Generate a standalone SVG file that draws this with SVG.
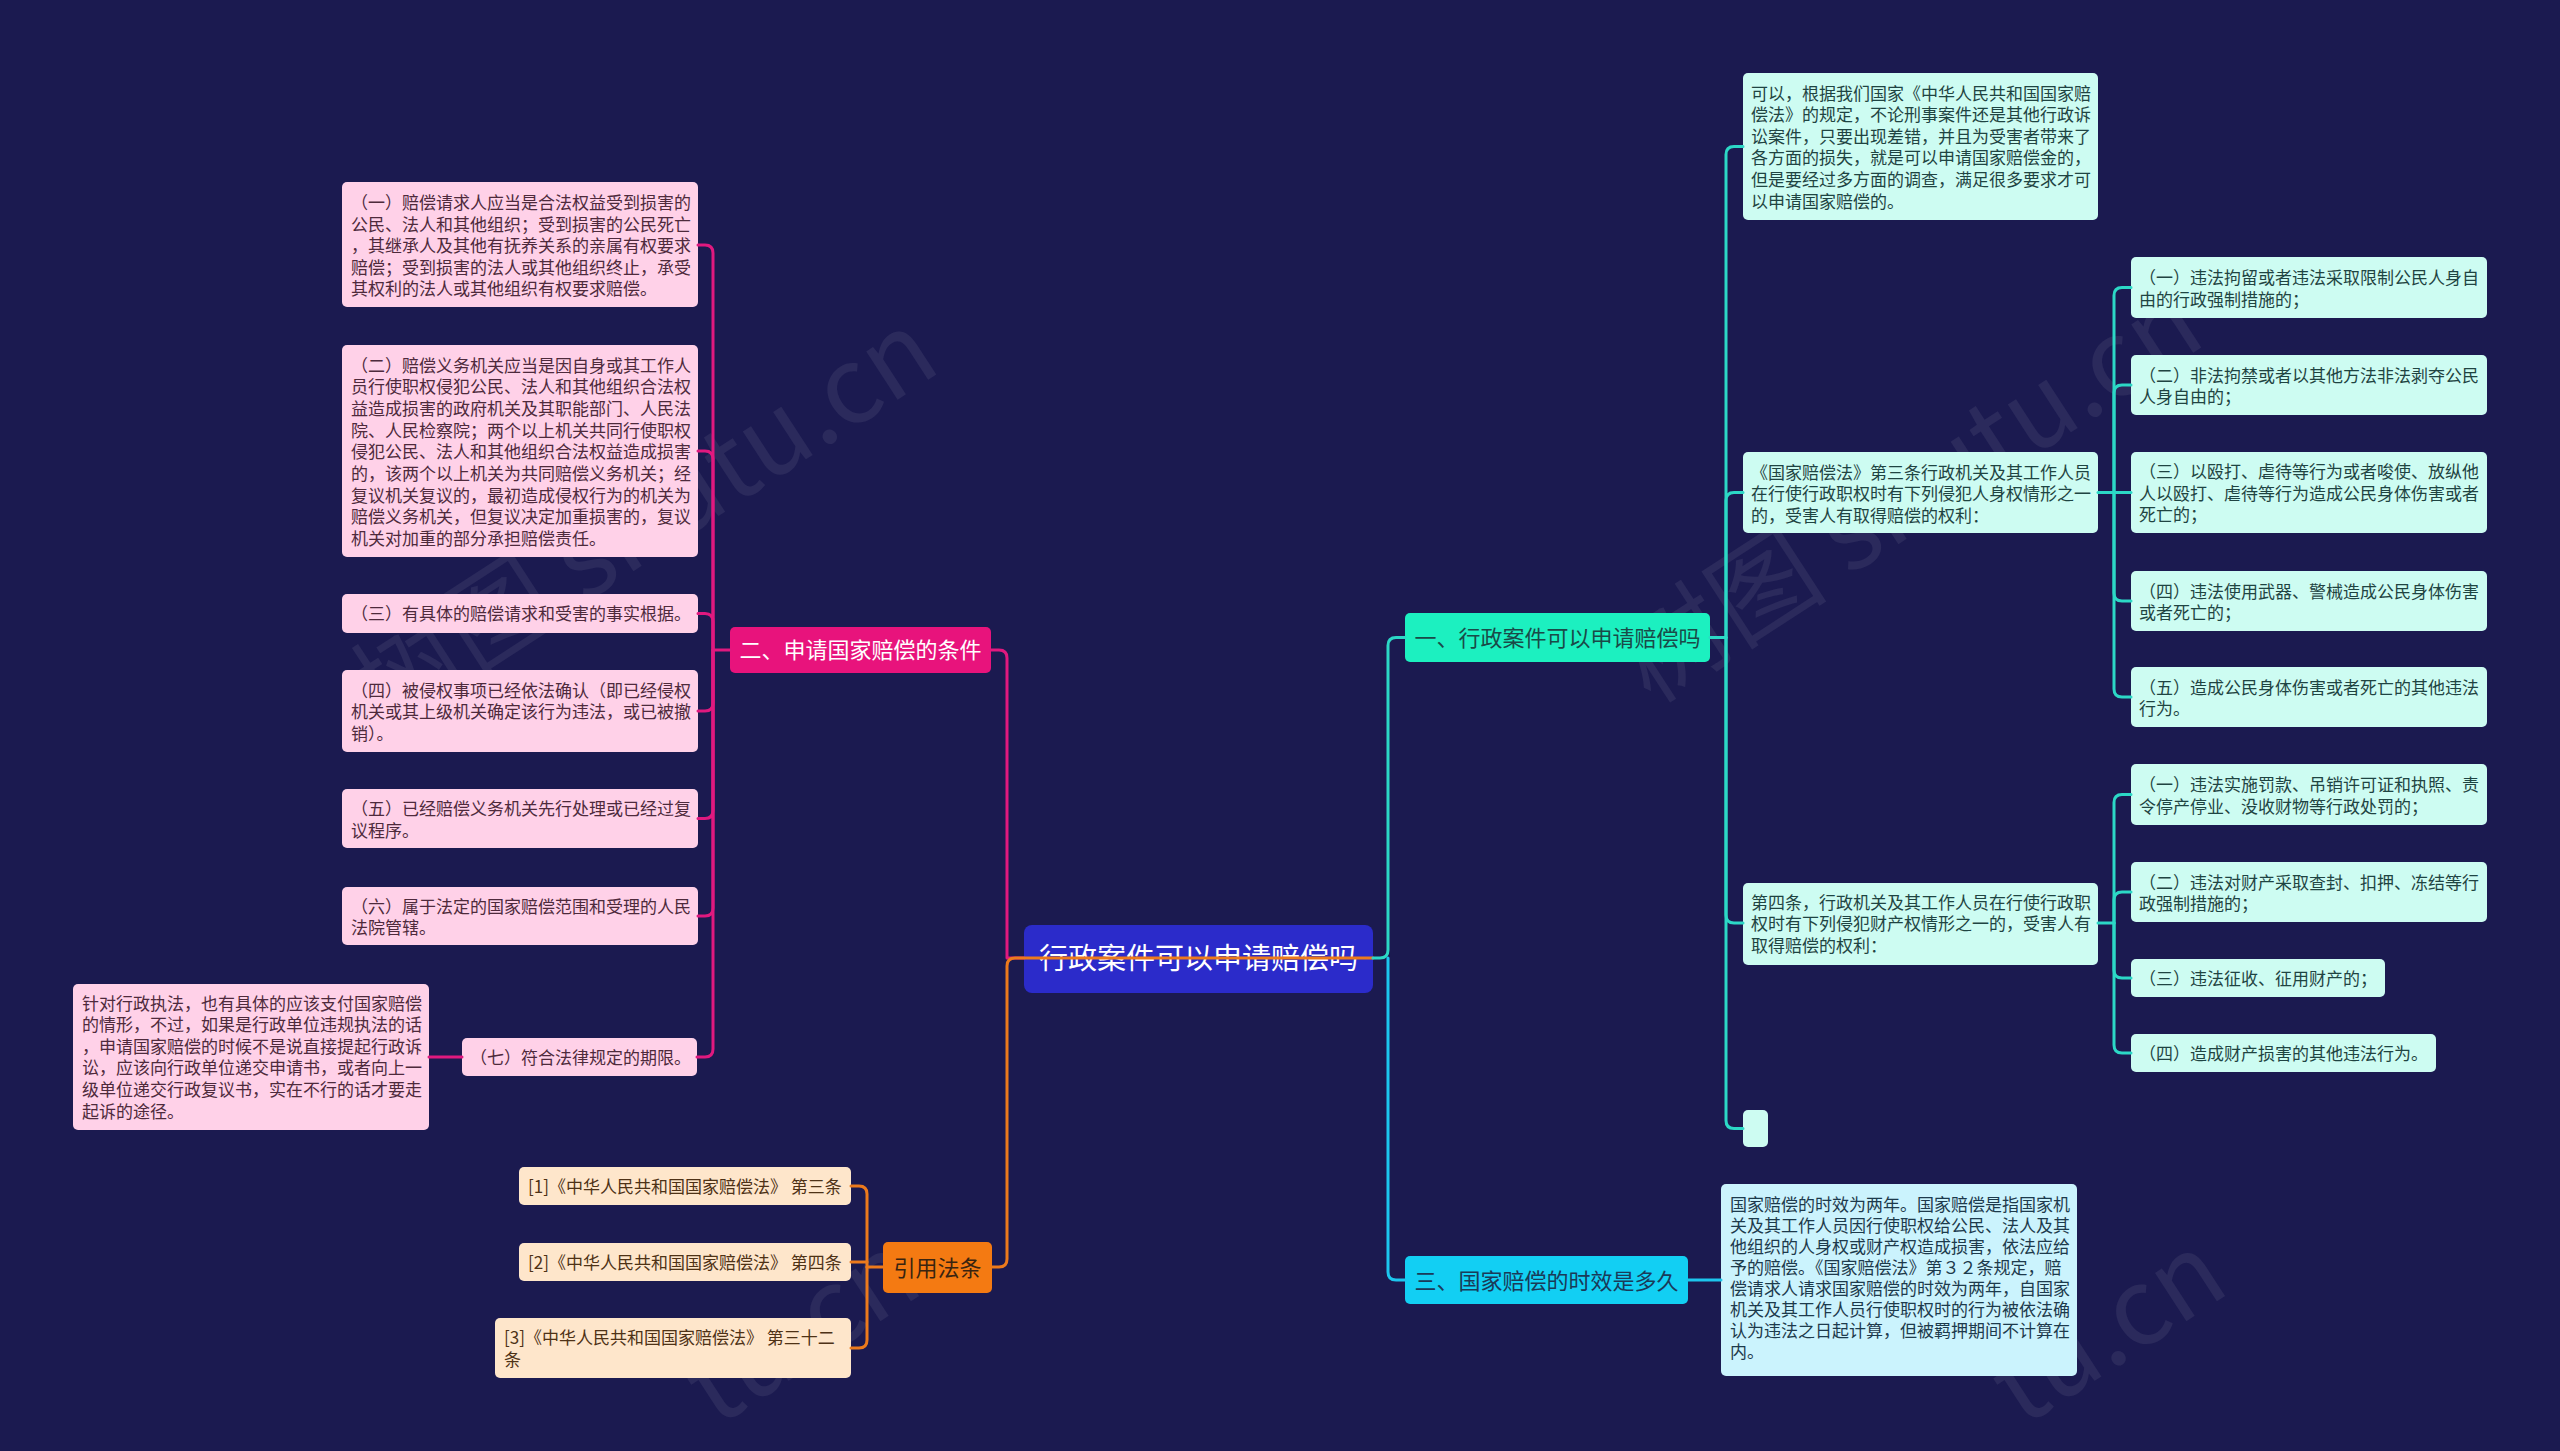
<svg xmlns="http://www.w3.org/2000/svg" width="2560" height="1451" viewBox="0 0 2560 1451">
<style>
text{font-family:"Noto Sans CJK SC","Noto Sans",sans-serif}
.leaf{font-size:17px}
.pk rect{fill:#ffd1e8}.pk text{fill:#4e2a3c}
.tl rect{fill:#cdfcf2}.tl text{fill:#1f4442}
.sk rect{fill:#cbf3fd}.sk text{fill:#1d3a4c}
.pc rect{fill:#fee6cb}.pc text{fill:#4e3216}
.br{font-size:22px}
.wm{font-size:106px;fill:#ffffff;fill-opacity:0.07;font-family:"Noto Sans CJK SC","Noto Sans",sans-serif}
.c{fill:none;stroke-width:3;stroke-linecap:round;stroke-linejoin:round}
.cp{stroke:#e0197f}.co{stroke:#ec7a1c}.ct{stroke:#2cd8c6}.cs{stroke:#1cc6ee}
</style>
<rect width="2560" height="1451" fill="#1b1a50"/>
<g id="watermarks">
<text class="wm" transform="translate(386,732) rotate(-33)">树图 shutu.cn</text>
<text class="wm" transform="translate(1651,705) rotate(-33)">树图 shutu.cn</text>
<text class="wm" transform="translate(716,1428) rotate(-33)">tu.cn</text>
<text class="wm" transform="translate(2022,1428) rotate(-33)">tu.cn</text>
</g>
<g id="nodes">
<g id="root"><rect x="1024" y="925" width="349" height="68" rx="8" fill="#2b2bca"/><text x="1198.5" y="969" font-size="29" fill="#ffffff" text-anchor="middle">行政案件可以申请赔偿吗</text></g>

<g id="b2"><rect x="730" y="627" width="261" height="46" rx="5" fill="#e8137c"/><text class="br" x="860.5" y="658" fill="#ffffff" text-anchor="middle">二、申请国家赔偿的条件</text></g>
<g id="bref"><rect x="883" y="1242" width="109" height="51" rx="5" fill="#f47a12"/><text class="br" x="937.5" y="1276" fill="#3a2410" text-anchor="middle">引用法条</text></g>
<g id="b1"><rect x="1405" y="613" width="305" height="49" rx="5" fill="#1cf0c0"/><text class="br" x="1557.5" y="646" fill="#1a4a48" text-anchor="middle">一、行政案件可以申请赔偿吗</text></g>
<g id="b3"><rect x="1405" y="1256" width="283" height="48" rx="5" fill="#12cff3"/><text class="br" x="1546.5" y="1288.5" fill="#1a3a58" text-anchor="middle">三、国家赔偿的时效是多久</text></g>

<g id="p1" class="pk leaf"><rect x="342" y="182" width="356" height="125" rx="5"/><text x="351"><tspan x="351" y="209">（一）赔偿请求人应当是合法权益受到损害的</tspan><tspan x="351" y="230.5">公民、法人和其他组织；受到损害的公民死亡</tspan><tspan x="351" y="252">，其继承人及其他有抚养关系的亲属有权要求</tspan><tspan x="351" y="273.5">赔偿；受到损害的法人或其他组织终止，承受</tspan><tspan x="351" y="295">其权利的法人或其他组织有权要求赔偿。</tspan></text></g>
<g id="p2" class="pk leaf"><rect x="342" y="345" width="356" height="212" rx="5"/><text><tspan x="351" y="371.5">（二）赔偿义务机关应当是因自身或其工作人</tspan><tspan x="351" y="393.2">员行使职权侵犯公民、法人和其他组织合法权</tspan><tspan x="351" y="414.8">益造成损害的政府机关及其职能部门、人民法</tspan><tspan x="351" y="436.5">院、人民检察院；两个以上机关共同行使职权</tspan><tspan x="351" y="458.2">侵犯公民、法人和其他组织合法权益造成损害</tspan><tspan x="351" y="479.8">的，该两个以上机关为共同赔偿义务机关；经</tspan><tspan x="351" y="501.5">复议机关复议的，最初造成侵权行为的机关为</tspan><tspan x="351" y="523.2">赔偿义务机关，但复议决定加重损害的，复议</tspan><tspan x="351" y="544.8">机关对加重的部分承担赔偿责任。</tspan></text></g>
<g id="p3" class="pk leaf"><rect x="342" y="594" width="356" height="39" rx="5"/><text x="351" y="620">（三）有具体的赔偿请求和受害的事实根据。</text></g>
<g id="p4" class="pk leaf"><rect x="342" y="670" width="356" height="82" rx="5"/><text><tspan x="351" y="696.5">（四）被侵权事项已经依法确认（即已经侵权</tspan><tspan x="351" y="718.2">机关或其上级机关确定该行为违法，或已被撤</tspan><tspan x="351" y="739.8">销）。</tspan></text></g>
<g id="p5" class="pk leaf"><rect x="342" y="789" width="356" height="59" rx="5"/><text><tspan x="351" y="815">（五）已经赔偿义务机关先行处理或已经过复</tspan><tspan x="351" y="836.6">议程序。</tspan></text></g>
<g id="p6" class="pk leaf"><rect x="342" y="887" width="356" height="58" rx="5"/><text><tspan x="351" y="912.5">（六）属于法定的国家赔偿范围和受理的人民</tspan><tspan x="351" y="934.1">法院管辖。</tspan></text></g>
<g id="p7" class="pk leaf"><rect x="462" y="1038" width="235" height="38" rx="5"/><text x="470" y="1063.5">（七）符合法律规定的期限。</text></g>
<g id="p7n" class="pk leaf"><rect x="73" y="984" width="356" height="146" rx="5"/><text><tspan x="82" y="1009.5">针对行政执法，也有具体的应该支付国家赔偿</tspan><tspan x="82" y="1031.1">的情形，不过，如果是行政单位违规执法的话</tspan><tspan x="82" y="1052.7">，申请国家赔偿的时候不是说直接提起行政诉</tspan><tspan x="82" y="1074.3">讼，应该向行政单位递交申请书，或者向上一</tspan><tspan x="82" y="1095.9">级单位递交行政复议书，实在不行的话才要走</tspan><tspan x="82" y="1117.5">起诉的途径。</tspan></text></g>

<g id="r1" class="pc leaf"><rect x="519" y="1167" width="332" height="38" rx="5"/><text x="528" y="1192.5">[1]《中华人民共和国国家赔偿法》 第三条</text></g>
<g id="r2" class="pc leaf"><rect x="519" y="1243" width="332" height="38" rx="5"/><text x="528" y="1268.5">[2]《中华人民共和国国家赔偿法》 第四条</text></g>
<g id="r3" class="pc leaf"><rect x="495" y="1318" width="356" height="60" rx="5"/><text><tspan x="504" y="1344">[3]《中华人民共和国国家赔偿法》 第三十二</tspan><tspan x="504" y="1366">条</tspan></text></g>

<g id="t1" class="tl leaf"><rect x="1743" y="73" width="355" height="147" rx="5"/><text><tspan x="1751" y="99.5">可以，根据我们国家《中华人民共和国国家赔</tspan><tspan x="1751" y="121.1">偿法》的规定，不论刑事案件还是其他行政诉</tspan><tspan x="1751" y="142.7">讼案件，只要出现差错，并且为受害者带来了</tspan><tspan x="1751" y="164.3">各方面的损失，就是可以申请国家赔偿金的，</tspan><tspan x="1751" y="185.9">但是要经过多方面的调查，满足很多要求才可</tspan><tspan x="1751" y="207.5">以申请国家赔偿的。</tspan></text></g>
<g id="t2" class="tl leaf"><rect x="1743" y="452" width="355" height="81" rx="5"/><text><tspan x="1751" y="478.5">《国家赔偿法》第三条行政机关及其工作人员</tspan><tspan x="1751" y="500">在行使行政职权时有下列侵犯人身权情形之一</tspan><tspan x="1751" y="521.5">的，受害人有取得赔偿的权利：</tspan></text></g>
<g id="t3" class="tl leaf"><rect x="1743" y="883" width="355" height="82" rx="5"/><text><tspan x="1751" y="908.5">第四条，行政机关及其工作人员在行使行政职</tspan><tspan x="1751" y="930">权时有下列侵犯财产权情形之一的，受害人有</tspan><tspan x="1751" y="951.5">取得赔偿的权利：</tspan></text></g>
<g id="t4" class="tl leaf"><rect x="1743" y="1110" width="25" height="37" rx="5"/></g>

<g id="t2a" class="tl leaf"><rect x="2131" y="257" width="356" height="61" rx="5"/><text><tspan x="2139" y="284">（一）违法拘留或者违法采取限制公民人身自</tspan><tspan x="2139" y="305.6">由的行政强制措施的；</tspan></text></g>
<g id="t2b" class="tl leaf"><rect x="2131" y="355" width="356" height="60" rx="5"/><text><tspan x="2139" y="381.5">（二）非法拘禁或者以其他方法非法剥夺公民</tspan><tspan x="2139" y="403.1">人身自由的；</tspan></text></g>
<g id="t2c" class="tl leaf"><rect x="2131" y="452" width="356" height="81" rx="5"/><text><tspan x="2139" y="478">（三）以殴打、虐待等行为或者唆使、放纵他</tspan><tspan x="2139" y="499.6">人以殴打、虐待等行为造成公民身体伤害或者</tspan><tspan x="2139" y="521.2">死亡的；</tspan></text></g>
<g id="t2d" class="tl leaf"><rect x="2131" y="571" width="356" height="60" rx="5"/><text><tspan x="2139" y="597.5">（四）违法使用武器、警械造成公民身体伤害</tspan><tspan x="2139" y="619.1">或者死亡的；</tspan></text></g>
<g id="t2e" class="tl leaf"><rect x="2131" y="667" width="356" height="60" rx="5"/><text><tspan x="2139" y="693.5">（五）造成公民身体伤害或者死亡的其他违法</tspan><tspan x="2139" y="715.1">行为。</tspan></text></g>

<g id="t3a" class="tl leaf"><rect x="2131" y="764" width="356" height="61" rx="5"/><text><tspan x="2139" y="791">（一）违法实施罚款、吊销许可证和执照、责</tspan><tspan x="2139" y="812.6">令停产停业、没收财物等行政处罚的；</tspan></text></g>
<g id="t3b" class="tl leaf"><rect x="2131" y="862" width="356" height="60" rx="5"/><text><tspan x="2139" y="888.5">（二）违法对财产采取查封、扣押、冻结等行</tspan><tspan x="2139" y="910.1">政强制措施的；</tspan></text></g>
<g id="t3c" class="tl leaf"><rect x="2131" y="959" width="254" height="38" rx="5"/><text x="2139" y="984.5">（三）违法征收、征用财产的；</text></g>
<g id="t3d" class="tl leaf"><rect x="2131" y="1034" width="305" height="38" rx="5"/><text x="2139" y="1059.5">（四）造成财产损害的其他违法行为。</text></g>

<g id="s1" class="sk leaf"><rect x="1721" y="1184" width="356" height="192" rx="5"/><text><tspan x="1730" y="1211">国家赔偿的时效为两年。国家赔偿是指国家机</tspan><tspan x="1730" y="1232">关及其工作人员因行使职权给公民、法人及其</tspan><tspan x="1730" y="1253">他组织的人身权或财产权造成损害，依法应给</tspan><tspan x="1730" y="1274">予的赔偿。《国家赔偿法》第３２条规定，赔</tspan><tspan x="1730" y="1295">偿请求人请求国家赔偿的时效为两年，自国家</tspan><tspan x="1730" y="1316">机关及其工作人员行使职权时的行为被依法确</tspan><tspan x="1730" y="1337">认为违法之日起计算，但被羁押期间不计算在</tspan><tspan x="1730" y="1358">内。</tspan></text></g>
</g>

<g id="connectors" class="c">
<path class="c cp" d="M991 650H999Q1007 650 1007 658V958H1024"/>
<path class="c co" d="M992 1267H999Q1007 1267 1007 1259V966Q1007 958 1015 958H1373"/>
<path class="c cp" d="M730 650H713"/>
<path class="c cp" d="M713 650V253Q713 245 705 245H698"/>
<path class="c cp" d="M713 650V459Q713 451 705 451H698"/>
<path class="c cp" d="M713 650V622Q713 613.5 705 613.5H698"/>
<path class="c cp" d="M713 650V703Q713 711 705 711H698"/>
<path class="c cp" d="M713 650V810Q713 818.5 705 818.5H698"/>
<path class="c cp" d="M713 650V908Q713 916 705 916H698"/>
<path class="c cp" d="M713 650V1049Q713 1057 705 1057H697"/>
<path class="c cp" d="M462 1057H429"/>
<path class="c co" d="M883 1267H867"/>
<path class="c co" d="M867 1267V1194Q867 1186 859 1186H851"/>
<path class="c co" d="M867 1262H851"/>
<path class="c co" d="M867 1267V1340Q867 1348 859 1348H851"/>
<path class="c ct" d="M1373 958H1380Q1388 958 1388 950V645.5Q1388 637.5 1396 637.5H1405"/>
<path class="c cs" d="M1388 958V1272Q1388 1280 1396 1280H1405"/>
<path class="c ct" d="M1710 637.5H1726"/>
<path class="c ct" d="M1726 637.5V154.5Q1726 146.5 1734 146.5H1743"/>
<path class="c ct" d="M1726 637.5V500.5Q1726 492.5 1734 492.5H1743"/>
<path class="c ct" d="M1726 637.5V915Q1726 923 1734 923H1743"/>
<path class="c ct" d="M1726 637.5V1120.5Q1726 1128.5 1734 1128.5H1743"/>
<path class="c ct" d="M2098 492.5H2114"/>
<path class="c ct" d="M2114 492.5V295.5Q2114 287.5 2122 287.5H2131"/>
<path class="c ct" d="M2114 492.5V393Q2114 385 2122 385H2131"/>
<path class="c ct" d="M2114 492.5H2131"/>
<path class="c ct" d="M2114 492.5V593Q2114 601 2122 601H2131"/>
<path class="c ct" d="M2114 492.5V689Q2114 697 2122 697H2131"/>
<path class="c ct" d="M2098 923H2114"/>
<path class="c ct" d="M2114 923V802.5Q2114 794.5 2122 794.5H2131"/>
<path class="c ct" d="M2114 923V900Q2114 892 2122 892H2131"/>
<path class="c ct" d="M2114 923V970Q2114 978 2122 978H2131"/>
<path class="c ct" d="M2114 923V1045Q2114 1053 2122 1053H2131"/>
<path class="c cs" d="M1688 1280H1721"/>
</g>
</svg>
